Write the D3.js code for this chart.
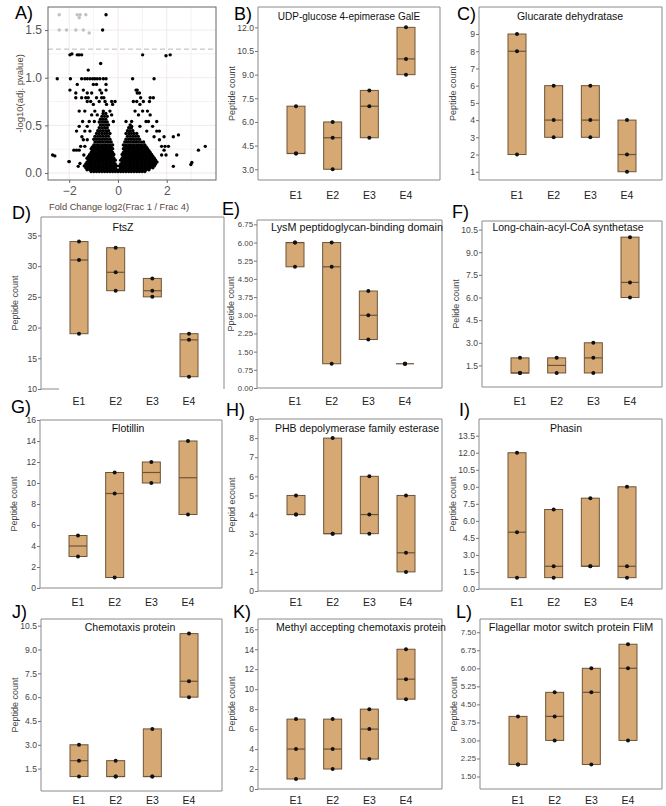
<!DOCTYPE html>
<html>
<head>
<meta charset="utf-8">
<script src="https://cdn.jsdelivr.net/npm/d3@7"></script>
<style>
  body { margin: 0; background: #fff; }
  svg { font-family: Arial, "Liberation Sans", sans-serif; }
</style>
</head>
<body>
<div id="chart"></div>
<script>
// ---- data ----
const groups = ["E1", "E2", "E3", "E4"];

// volcano plot (panel A): dense core, one row per -log10 p level
const volcanoRows = [
  [0.015, [-1.1,-0.99,-0.88,-0.77,-0.66,-0.55,-0.44,-0.33,-0.22,-0.11,0,0.11,0.22,0.33,0.44,0.55,0.66,0.77,0.88,0.99,1.1]],
  [0.035, [-1.27,-1.16,-1.05,-0.94,-0.83,-0.72,-0.61,-0.5,-0.39,-0.28,-0.17,-0.06,0.06,0.17,0.28,0.39,0.5,0.61,0.72,0.83,0.94,1.05,1.16,1.27]],
  [0.055, [-1.32,-1.21,-1.1,-0.99,-0.88,-0.77,-0.66,-0.55,-0.44,-0.33,-0.22,-0.11,0.11,0.22,0.33,0.44,0.55,0.66,0.77,0.88,0.99,1.1,1.21,1.32,1.43]],
  [0.075, [-1.38,-1.27,-1.16,-1.05,-0.94,-0.83,-0.72,-0.61,-0.5,-0.39,-0.28,-0.17,-0.06,0.06,0.17,0.28,0.39,0.5,0.61,0.72,0.83,0.94,1.05,1.16,1.27,1.38,1.49]],
  [0.095, [-1.32,-1.21,-1.1,-0.99,-0.88,-0.77,-0.66,-0.55,-0.44,-0.33,-0.22,-0.11,0.11,0.22,0.33,0.44,0.55,0.66,0.77,0.88,0.99,1.1,1.21,1.32,1.43,1.54]],
  [0.115, [-1.27,-1.16,-1.05,-0.94,-0.83,-0.72,-0.61,-0.5,-0.39,-0.28,-0.17,0.17,0.28,0.39,0.5,0.61,0.72,0.83,0.94,1.05,1.16,1.27,1.38,1.49,1.6]],
  [0.135, [-1.21,-1.1,-0.99,-0.88,-0.77,-0.66,-0.55,-0.44,-0.33,-0.22,-0.11,0.11,0.22,0.33,0.44,0.55,0.66,0.77,0.88,0.99,1.1,1.21,1.32,1.43,1.54]],
  [0.155, [-1.27,-1.16,-1.05,-0.94,-0.83,-0.72,-0.61,-0.5,-0.39,-0.28,-0.17,0.17,0.28,0.39,0.5,0.61,0.72,0.83,0.94,1.05,1.16,1.27,1.38,1.49]],
  [0.175, [-1.21,-1.1,-0.99,-0.88,-0.77,-0.66,-0.55,-0.44,-0.33,-0.22,0.22,0.33,0.44,0.55,0.66,0.77,0.88,0.99,1.1,1.21,1.32,1.43]],
  [0.195, [-1.16,-1.05,-0.94,-0.83,-0.72,-0.61,-0.5,-0.39,-0.28,-0.17,0.17,0.28,0.39,0.5,0.61,0.72,0.83,0.94,1.05,1.16,1.27,1.38]],
  [0.215, [-1.1,-0.99,-0.88,-0.77,-0.66,-0.55,-0.44,-0.33,-0.22,0.22,0.33,0.44,0.55,0.66,0.77,0.88,0.99,1.1,1.21,1.32]],
  [0.235, [-1.05,-0.94,-0.83,-0.72,-0.61,-0.5,-0.39,-0.28,0.28,0.39,0.5,0.61,0.72,0.83,0.94,1.05,1.16,1.27]],
  [0.255, [-1.1,-0.99,-0.88,-0.77,-0.66,-0.55,-0.44,-0.33,-0.22,0.22,0.33,0.44,0.55,0.66,0.77,0.88,0.99,1.1,1.21]],
  [0.275, [-1.05,-0.94,-0.83,-0.72,-0.61,-0.5,-0.39,-0.28,0.28,0.39,0.5,0.61,0.72,0.83,0.94,1.05,1.16]],
  [0.295, [-0.99,-0.88,-0.77,-0.66,-0.55,-0.44,-0.33,-0.22,0.22,0.33,0.44,0.55,0.66,0.77,0.88,0.99,1.1]],
  [0.325, [-0.94,-0.83,-0.72,-0.61,-0.5,-0.39,-0.28,0.28,0.39,0.5,0.61,0.72,0.83,0.94,1.05]],
  [0.355, [-0.99,-0.88,-0.77,-0.66,-0.55,-0.44,-0.33,0.33,0.44,0.55,0.66,0.77,0.88]],
  [0.385, [-0.94,-0.83,-0.72,-0.61,-0.5,-0.39,0.39,0.5,0.61,0.72,0.83]],
  [0.415, [-0.88,-0.77,-0.66,-0.55,-0.44,-0.33,0.33,0.44,0.55,0.66,0.77]],
  [0.445, [-0.83,-0.72,-0.61,-0.5,-0.39,0.39,0.5,0.61]],
  [0.475, [-0.77,-0.66,-0.55,-0.44,0.44,0.55]],
  [0.505, [-0.72,-0.61,-0.5,-0.39,0.5]],
  [0.535, [-0.77,-0.66,-0.55,-0.44]],
  [0.565, [-0.72,-0.61,-0.5]],
  [0.595, [-0.66,-0.55,-0.44]],
  [0.625, [-0.61,-0.5]]
];

// volcano plot: scattered proteins [log2 fold change, -log10 adj p]
const volcanoSparse = [
  [-2.41,1.66],[-1.67,1.66],[-1.55,1.66],[-1.32,1.66],[-1.59,1.63],
  [-2.41,1.5],[-2.11,1.5],[-1.73,1.5],[-1.42,1.5],[-1.18,1.47],
  [-0.49,1.66],[-0.63,1.5],
  [-1.97,1.24],[-1.89,1.25],[-1.67,1.24],[-1.59,1.24],[-1.49,1.24],
  [1.01,1.24],[1.97,1.23],[2.14,1.24],[-0.71,1.15],[-1.22,1.08],
  [-2.49,0.99],[-1.95,0.99],[-1.49,0.99],[-1.36,0.99],[-1.26,0.99],[-1.15,0.99],[-1.04,0.99],
  [-0.95,0.99],[-0.85,0.99],[-0.74,0.99],[-0.6,0.99],[-0.49,0.99],[0.6,0.99],[1.48,0.99],
  [-1.67,0.93],[-1.01,0.93],[-0.88,0.93],[-0.49,0.93],
  [-1.97,0.87],[-1.42,0.87],[-0.74,0.87],[-0.49,0.87],[0.74,0.87],[0.79,0.87],
  [-1.73,0.84],[-1.26,0.84],[-1.08,0.84],[-0.67,0.84],[0.79,0.84],[0.88,0.84],
  [-1.73,0.79],[-1.49,0.79],[-1.32,0.79],[-1.22,0.79],[-0.88,0.79],[-0.67,0.79],[-0.58,0.79],
  [0.93,0.79],[1.32,0.79],[1.45,0.79],
  [-1.26,0.75],[-1.12,0.75],[-0.77,0.75],[-0.53,0.75],[-0.26,0.75],[-0.12,0.75],
  [0.63,0.75],[0.77,0.75],[1.04,0.75],[1.29,0.75],
  [-1.01,0.72],[-0.47,0.72],[-0.22,0.72],[0.9,0.72],
  [-1.59,0.65],[-1.36,0.65],[-0.95,0.65],[-0.6,0.65],[-0.33,0.65],[0.7,0.65],[1.01,0.65],[1.21,0.65],
  [-1.08,0.61],[-0.85,0.61],[-0.26,0.61],[0.84,0.61],[1.32,0.61],
  [-1.45,0.54],[-1.18,0.54],[-0.97,0.54],[-0.19,0.54],[0.33,0.54],[0.56,0.54],[1.15,0.54],[1.25,0.54],[1.59,0.54],
  [-1.59,0.49],[-1.26,0.49],[0.56,0.49],[0.9,0.49],[1.42,0.49],
  [-1.7,0.44],[-1.36,0.44],[-1.15,0.44],[1.18,0.44],[1.59,0.44],[1.7,0.44],
  [2.27,0.38],[-1.48,0.38],[1.89,0.38],[1.48,0.38],[2.48,0.4],
  [-1.26,0.35],[-1.42,0.35],[1.7,0.35],
  [-1.53,0.28],[-1.36,0.28],[1.79,0.28],[1.93,0.28],[2.07,0.28],[3.58,0.28],[3.3,0.24],
  [-1.59,0.24],[-1.81,0.24],[-1.7,0.24],[1.89,0.24],
  [-2.68,0.19],[-2.59,0.18],[-1.4,0.19],[1.79,0.19],[1.97,0.19],[2.41,0.19],
  [3.03,0.11],[2.99,0.09],[-2.0,0.12],[-1.56,0.1],[2.27,0.07],[-1.63,0.07],[-1.15,0.07],
  [-2.01,0.12],[-1.18,0.08],[1.01,0.03],[0.7,0.03]
];
const volcanoXTicks = [-2, 0, 2];
const volcanoYTicks = [0, 0.5, 1.0, 1.5];
const pThreshold = 1.3;

// peptide counts per protein, replicates per group E1..E4
const galeCounts       = [[4, 4, 7], [3, 5, 6], [5, 7, 8], [9, 10, 12]];
const glucarateCounts  = [[2, 8, 9], [3, 4, 6], [3, 4, 6], [1, 2, 4]];
const ftszCounts       = [[19, 31, 34], [26, 29, 33], [25, 26, 28], [12, 18, 19]];
const lysmCounts       = [[5, 6, 6], [1, 5, 6], [2, 3, 4], [1, 1, 1]];
const acylCoaCounts    = [[1, 1, 2], [1, 2], [1, 2, 3], [6, 7, 10]];
const flotillinCounts  = [[3, 5], [1, 9, 11], [10, 12], [7, 14]];
const phbCounts        = [[4, 4, 5], [3, 3, 8], [3, 4, 6], [1, 2, 5]];
const phasinCounts     = [[1, 5, 12], [1, 2, 7], [2, 2, 8], [1, 2, 9]];
const chemotaxisCounts = [[1, 2, 3], [1, 1, 2], [1, 1, 4], [6, 7, 10]];
const mcpCounts        = [[1, 4, 7], [2, 4, 7], [3, 6, 8], [9, 11, 14]];
const flimCounts       = [[2, 2, 4], [3, 4, 5], [2, 5, 6], [3, 6, 7]];

const galeTicks       = [3, 4.5, 6, 7.5, 9, 10.5, 12];
const glucarateTicks  = [1, 2, 3, 4, 5, 6, 7, 8, 9];
const ftszTicks       = [10, 15, 20, 25, 30, 35];
const lysmTicks       = [0, 0.75, 1.5, 2.25, 3, 3.75, 4.5, 5.25, 6, 6.75];
const acylCoaTicks    = [1.5, 3, 4.5, 6, 7.5, 9, 10.5];
const flotillinTicks  = [0, 2, 4, 6, 8, 10, 12, 14, 16];
const phbTicks        = [0, 1, 2, 3, 4, 5, 6, 7, 8, 9];
const phasinTicks     = [0, 1.5, 3, 4.5, 6, 7.5, 9, 10.5, 12, 13.5];
const chemotaxisTicks = [1.5, 3, 4.5, 6, 7.5, 9, 10.5];
const mcpTicks        = [0, 2, 4, 6, 8, 10, 12, 14, 16];
const flimTicks       = [1.5, 2.25, 3, 3.75, 4.5, 5.25, 6, 6.75, 7.5];

const panels = [
  { id: "B)", title: "UDP-glucose 4-epimerase GalE", ylab: "Peptide count", values: galeCounts, ticks: galeTicks, fmt: ".1f", domain: [2.32, 13.29] },
  { id: "C)", title: "Glucarate dehydratase", ylab: "Peptide count", values: glucarateCounts, ticks: glucarateTicks, fmt: "d", domain: [0.52, 10.57] },
  { id: "D)", title: "FtsZ", ylab: "Peptide count", values: ftszCounts, ticks: ftszTicks, fmt: "d", domain: [10, 38] },
  { id: "E)", title: "LysM peptidoglycan-binding domain", ylab: "Ppetide count", values: lysmCounts, ticks: lysmTicks, fmt: ".2f", domain: [0, 6.93] },
  { id: "F)", title: "Long-chain-acyl-CoA synthetase", ylab: "Pelide count", values: acylCoaCounts, ticks: acylCoaTicks, fmt: ".1f", domain: [0.07, 11.07] },
  { id: "G)", title: "Flotillin", ylab: "Peptide count", values: flotillinCounts, ticks: flotillinTicks, fmt: "d", domain: [0, 16] },
  { id: "H)", title: "PHB depolymerase family esterase", ylab: "Peptid ecount", values: phbCounts, ticks: phbTicks, fmt: "d", domain: [0, 9] },
  { id: "I)", title: "Phasin", ylab: "Peptide count", values: phasinCounts, ticks: phasinTicks, fmt: ".1f", domain: [0, 14.97] },
  { id: "J)", title: "Chemotaxis protein", ylab: "Peptide count", values: chemotaxisCounts, ticks: chemotaxisTicks, fmt: ".1f", domain: [0.09, 10.92] },
  { id: "K)", title: "Methyl accepting chemotaxis protein", ylab: "Peptide count", values: mcpCounts, ticks: mcpTicks, fmt: "d", domain: [0, 17.03] },
  { id: "L)", title: "Flagellar motor switch protein FliM", ylab: "Peptide count", values: flimCounts, ticks: flimTicks, fmt: ".2f", domain: [0.98, 8.05] }
];

// ---- layout: frame [left, top, right, bottom], panel letter [x, y], title [cx, y, size], x-label baseline ----
const layout = {
  "A)": { frame: [48, 7, 216, 180], label: [15, 19] },
  "B)": { frame: [258, 7, 440, 180], label: [234, 20], title: [349, 20, 10], xlab: 199 },
  "C)": { frame: [479, 7, 662, 180], label: [457, 20], title: [570, 20, 10.5], xlab: 199 },
  "D)": { frame: [41, 217, 224, 389], label: [12, 219], title: [123, 231, 10.5], xlab: 405, bottomTo: 59 },
  "E)": { frame: [257, 220, 442, 388], label: [222, 215], title: [357, 231, 10.8], xlab: 405 },
  "F)": { frame: [482, 221, 662, 387], label: [452, 218], title: [568, 231, 10.5], xlab: 405 },
  "G)": { frame: [40, 420, 222, 588], label: [11, 413], title: [128, 432, 10.5], xlab: 606 },
  "H)": { frame: [258, 419, 442, 591], label: [226, 416], title: [357, 432, 10.5], xlab: 606 },
  "I)": { frame: [479, 419, 662, 589], label: [459, 416], title: [566, 432, 10.5], xlab: 606 },
  "J)": { frame: [41, 619, 222, 791], label: [12, 618], title: [130, 631, 10.5], xlab: 804 },
  "K)": { frame: [258, 619, 442, 789], label: [233, 618], title: [361, 631, 10.5], xlab: 804 },
  "L)": { frame: [480, 619, 662, 789], label: [456, 618], title: [571, 631, 10.8], xlab: 804 }
};
const boxFill = "#d6a874", boxStroke = "#6e5437", frameColor = "#8a8a8a";

const svg = d3.select("#chart").append("svg")
  .attr("width", 666).attr("height", 806);

// ---- panel A: volcano ----
(() => {
  const L = layout["A)"];
  const [l, t, r, b] = L.frame;
  const x = d3.scaleLinear().domain([-2.87, 4.02]).range([l, r]);
  const y = d3.scaleLinear().domain([-0.073, 1.742]).range([b, t]);
  const g = svg.append("g");

  // grid
  const minorX = [-1, 1, 3], minorY = [0.25, 0.75, 1.25];
  g.selectAll(".gx").data(volcanoXTicks.concat(minorX)).enter().append("line")
    .attr("x1", d => x(d)).attr("x2", d => x(d)).attr("y1", t).attr("y2", b)
    .attr("stroke", d => minorX.includes(d) ? "#f6eeee" : "#eee3e3").attr("stroke-width", 0.8);
  g.selectAll(".gy").data(volcanoYTicks.concat(minorY)).enter().append("line")
    .attr("x1", l).attr("x2", r).attr("y1", d => y(d)).attr("y2", d => y(d))
    .attr("stroke", d => minorY.includes(d) ? "#f6eeee" : "#eee3e3").attr("stroke-width", 0.8);

  const pts = [];
  volcanoRows.forEach(([py, xs]) => xs.forEach(px => pts.push([px, py])));
  volcanoSparse.forEach(p => pts.push(p));

  g.selectAll("circle").data(pts).enter().append("circle")
    .attr("cx", d => x(d[0])).attr("cy", d => y(d[1])).attr("r", 1.7)
    .attr("fill", d => (d[1] > pThreshold && Math.abs(d[0]) > 1) ? "#b9c3c8" : "#000");

  g.append("line").attr("x1", l).attr("x2", r)
    .attr("y1", y(pThreshold)).attr("y2", y(pThreshold))
    .attr("stroke", "#b8b8b8").attr("stroke-width", 1).attr("stroke-dasharray", "5,3");

  g.append("rect").attr("x", l).attr("y", t).attr("width", r - l).attr("height", b - t)
    .attr("fill", "none").attr("stroke", "#666").attr("stroke-width", 1);

  g.append("g").attr("transform", `translate(0,${b})`)
    .call(d3.axisBottom(x).tickValues(volcanoXTicks).tickSize(3).tickFormat(d3.format("d")))
    .call(a => a.select(".domain").remove())
    .call(a => a.selectAll("line").attr("stroke", "#666"))
    .call(a => a.selectAll("text").attr("fill", "#555").style("font-size", "12px"));
  g.append("g").attr("transform", `translate(${l},0)`)
    .call(d3.axisLeft(y).tickValues(volcanoYTicks).tickSize(3).tickFormat(d3.format(".1f")))
    .call(a => a.select(".domain").remove())
    .call(a => a.selectAll("line").attr("stroke", "#666"))
    .call(a => a.selectAll("text").attr("fill", "#555").style("font-size", "12px"));

  g.append("text").attr("x", 119).attr("y", 210).attr("text-anchor", "middle")
    .style("font-size", "9.3px").attr("fill", "#55463c").text("Fold Change log2(Frac 1 / Frac 4)");
  g.append("text").attr("transform", `translate(23,${(t + b) / 2}) rotate(-90)`)
    .attr("text-anchor", "middle").style("font-size", "9.5px").attr("fill", "#55463c")
    .text("-log10(adj. pvalue)");
  g.append("text").attr("x", L.label[0]).attr("y", L.label[1]).style("font-size", "18px").text("A)");
})();

// ---- panels B..L: box plots ----
panels.forEach(p => {
  const L = layout[p.id];
  const [l, t, r, b] = L.frame;
  const g = svg.append("g");
  const x = d3.scalePoint().domain(groups).range([l + 38, l + 148]);
  const y = d3.scaleLinear().domain(p.domain).range([b, t]);
  const bw = 18;

  const stats = p.values.map((v, i) => ({
    group: groups[i], vals: v, min: d3.min(v), max: d3.max(v), med: d3.median(v)
  }));

  // frame
  const fr = g.append("g").attr("stroke", frameColor).attr("stroke-width", 1);
  fr.append("line").attr("x1", l).attr("x2", r).attr("y1", t).attr("y2", t);
  fr.append("line").attr("x1", l).attr("x2", l).attr("y1", t).attr("y2", b);
  fr.append("line").attr("x1", r).attr("x2", r).attr("y1", t).attr("y2", b);
  fr.append("line").attr("x1", l).attr("x2", L.bottomTo || r).attr("y1", b).attr("y2", b);

  g.selectAll(".box").data(stats).enter().append("rect")
    .attr("x", d => x(d.group) - bw / 2).attr("y", d => y(d.max))
    .attr("width", bw).attr("height", d => Math.max(0, y(d.min) - y(d.max)))
    .attr("fill", boxFill).attr("stroke", boxStroke).attr("stroke-width", 1);

  g.selectAll(".med").data(stats).enter().append("line")
    .attr("x1", d => x(d.group) - bw / 2).attr("x2", d => x(d.group) + bw / 2)
    .attr("y1", d => y(d.med)).attr("y2", d => y(d.med))
    .attr("stroke", boxStroke).attr("stroke-width", 1.2);

  const dots = [];
  stats.forEach(s => s.vals.forEach(v => dots.push({ group: s.group, v })));
  g.selectAll(".dot").data(dots).enter().append("circle")
    .attr("cx", d => x(d.group)).attr("cy", d => y(d.v)).attr("r", 2)
    .attr("fill", "#111");

  const tickFont = p.fmt === ".2f" ? "7.8px" : "8.6px";
  g.append("g").attr("transform", `translate(${l},0)`)
    .call(d3.axisLeft(y).tickValues(p.ticks).tickSize(3).tickFormat(d3.format(p.fmt)))
    .call(a => a.select(".domain").remove())
    .call(a => a.selectAll("line").attr("stroke", "#777"))
    .call(a => a.selectAll("text").attr("fill", "#444").attr("x", -4).style("font-size", tickFont));

  g.selectAll(".xl").data(groups).enter().append("text")
    .attr("x", d => x(d)).attr("y", L.xlab).attr("text-anchor", "middle")
    .style("font-size", "10.5px").attr("fill", "#222").text(d => d);

  g.append("text").attr("x", L.title[0]).attr("y", L.title[1]).attr("text-anchor", "middle")
    .style("font-size", L.title[2] + "px").attr("fill", "#111").text(p.title);

  g.append("text").attr("transform", `translate(${l - 23},${(t + b) / 2}) rotate(-90)`)
    .attr("text-anchor", "middle").style("font-size", "9px").attr("fill", "#444")
    .text(p.ylab);

  g.append("text").attr("x", L.label[0]).attr("y", L.label[1]).style("font-size", "18px")
    .attr("fill", "#000").text(p.id);
});
</script>
</body>
</html>
